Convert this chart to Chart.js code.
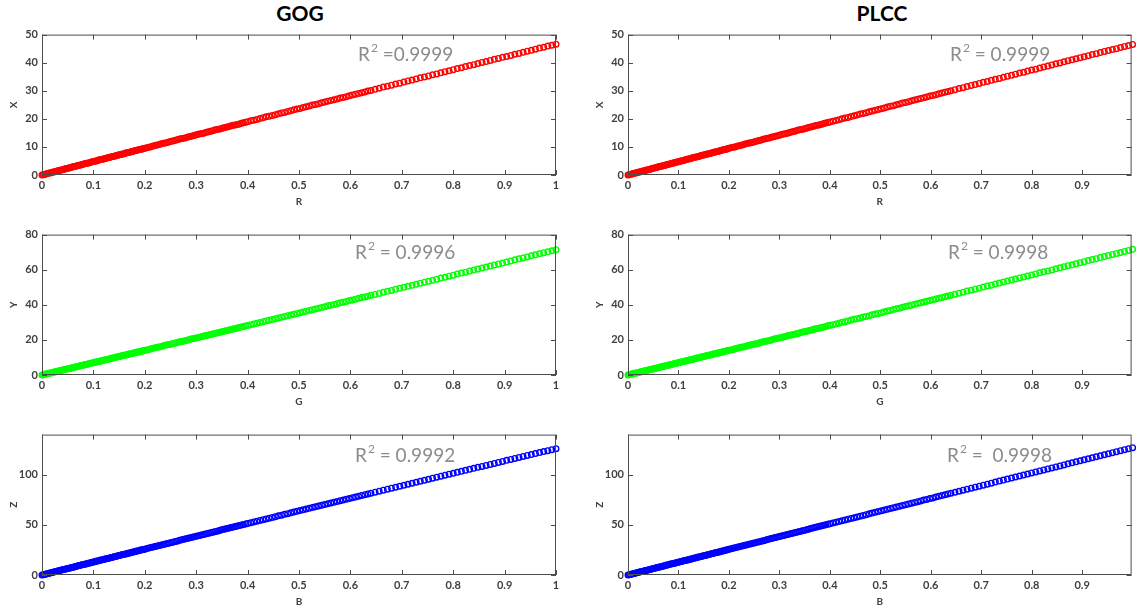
<!DOCTYPE html>
<html>
<head>
<meta charset="utf-8">
<title>GOG / PLCC</title>
<script src="https://cdn.jsdelivr.net/npm/chart.js@4.4.1/dist/chart.umd.min.js"></script>
<style>
  body { margin: 0; background: #fff; width: 1137px; height: 605px; overflow: hidden; position: relative; }
  .head { position: absolute; top: 0; line-height: 28px; font: bold 21px Lato, sans-serif; color: #000; transform: translateX(-50%); }
  canvas { position: absolute; }
</style>
</head>
<body>
<div class="head" style="left:300px">GOG</div>
<div class="head" style="left:882px">PLCC</div>
<script>
// normalised RGB drive levels, shared by every panel (finer steps at the dark end)
const levels = [
  0, 0.0025, 0.005, 0.0075, 0.01, 0.0125, 0.015, 0.0175, 0.02, 0.0225, 0.025, 0.0275, 0.03, 0.0325, 0.035, 0.0375, 0.04, 0.0425, 0.045, 0.0475,
  0.05, 0.0525, 0.055, 0.0575, 0.06, 0.0625, 0.065, 0.0675, 0.07, 0.0725, 0.075, 0.0775, 0.08, 0.0825, 0.085, 0.0875, 0.09, 0.0925, 0.095, 0.0975,
  0.1, 0.1025, 0.105, 0.1075, 0.11, 0.1125, 0.115, 0.1175, 0.12, 0.1225, 0.125, 0.1275, 0.13, 0.1325, 0.135, 0.1375, 0.14, 0.1425, 0.145, 0.1475,
  0.15, 0.1525, 0.155, 0.1575, 0.16, 0.1625, 0.165, 0.1675, 0.17, 0.1725, 0.175, 0.1775, 0.18, 0.1825, 0.185, 0.1875, 0.19, 0.1925, 0.195, 0.1975, 0.2,
  0.204, 0.208, 0.212, 0.216, 0.22, 0.224, 0.228, 0.232, 0.236, 0.24, 0.244, 0.248, 0.252, 0.256, 0.26, 0.264, 0.268, 0.272, 0.276, 0.28,
  0.284, 0.288, 0.292, 0.296, 0.3, 0.304, 0.308, 0.312, 0.316, 0.32, 0.324, 0.328, 0.332, 0.336, 0.34, 0.344, 0.348, 0.352, 0.356, 0.36,
  0.364, 0.368, 0.372, 0.376, 0.38, 0.384, 0.388, 0.392, 0.396, 0.4,
  0.406, 0.412, 0.418, 0.424, 0.43, 0.436, 0.442, 0.448, 0.454, 0.46, 0.466, 0.472, 0.478, 0.484, 0.49, 0.496, 0.502, 0.508, 0.514, 0.52,
  0.526, 0.532, 0.538, 0.544, 0.55, 0.556, 0.562, 0.568, 0.574, 0.58, 0.586, 0.592, 0.598, 0.604, 0.61, 0.616, 0.622, 0.628, 0.634, 0.64,
  0.648, 0.656, 0.664, 0.672, 0.68, 0.688, 0.696, 0.704, 0.712, 0.72, 0.728, 0.736, 0.744, 0.752, 0.76, 0.768, 0.776, 0.784, 0.792, 0.8,
  0.808, 0.816, 0.824, 0.832, 0.84, 0.848, 0.856, 0.864, 0.872, 0.88, 0.888, 0.896, 0.904, 0.912, 0.92, 0.928, 0.936, 0.944, 0.952, 0.96,
  0.968, 0.976, 0.984, 0.992, 1
];

// GOG model output
const gogX = [
  0, 0.1, 0.2, 0.4, 0.5, 0.6, 0.7, 0.8, 1.0, 1.1, 1.2, 1.3, 1.4, 1.6, 1.7, 1.8, 1.9, 2.0, 2.2, 2.3,
  2.4, 2.5, 2.6, 2.8, 2.9, 3.0, 3.1, 3.2, 3.4, 3.5, 3.6, 3.7, 3.8, 4.0, 4.1, 4.2, 4.3, 4.4, 4.5, 4.7,
  4.8, 4.9, 5.0, 5.1, 5.3, 5.4, 5.5, 5.6, 5.7, 5.9, 6.0, 6.1, 6.2, 6.3, 6.5, 6.6, 6.7, 6.8, 6.9, 7.0,
  7.2, 7.3, 7.4, 7.5, 7.6, 7.8, 7.9, 8.0, 8.1, 8.2, 8.4, 8.5, 8.6, 8.7, 8.8, 9.0, 9.1, 9.2, 9.3, 9.4, 9.5,
  9.7, 9.9, 10.1, 10.3, 10.5, 10.7, 10.9, 11.1, 11.3, 11.4, 11.6, 11.8, 12.0, 12.2, 12.4, 12.6, 12.8, 13.0, 13.1, 13.3,
  13.5, 13.7, 13.9, 14.1, 14.3, 14.5, 14.7, 14.8, 15.0, 15.2, 15.4, 15.6, 15.8, 16.0, 16.2, 16.3, 16.5, 16.7, 16.9, 17.1,
  17.3, 17.5, 17.7, 17.8, 18.0, 18.2, 18.4, 18.6, 18.8, 19.0,
  19.3, 19.5, 19.8, 20.1, 20.4, 20.7, 20.9, 21.2, 21.5, 21.8, 22.1, 22.3, 22.6, 22.9, 23.2, 23.5, 23.7, 24.0, 24.3, 24.6,
  24.9, 25.1, 25.4, 25.7, 26.0, 26.3, 26.5, 26.8, 27.1, 27.4, 27.6, 27.9, 28.2, 28.5, 28.8, 29.0, 29.3, 29.6, 29.9, 30.1,
  30.5, 30.9, 31.3, 31.6, 32.0, 32.4, 32.7, 33.1, 33.5, 33.8, 34.2, 34.6, 34.9, 35.3, 35.7, 36.0, 36.4, 36.8, 37.1, 37.5,
  37.9, 38.2, 38.6, 39.0, 39.3, 39.7, 40.1, 40.4, 40.8, 41.2, 41.5, 41.9, 42.2, 42.6, 43.0, 43.3, 43.7, 44.1, 44.4, 44.8,
  45.2, 45.5, 45.9, 46.2, 46.6
];
const gogY = [
  0, 0.2, 0.4, 0.5, 0.7, 0.9, 1.1, 1.2, 1.4, 1.6, 1.8, 1.9, 2.1, 2.3, 2.5, 2.6, 2.8, 3.0, 3.2, 3.3,
  3.5, 3.7, 3.9, 4.0, 4.2, 4.4, 4.6, 4.7, 4.9, 5.1, 5.3, 5.4, 5.6, 5.8, 6.0, 6.1, 6.3, 6.5, 6.7, 6.8,
  7.0, 7.2, 7.4, 7.5, 7.7, 7.9, 8.1, 8.2, 8.4, 8.6, 8.8, 8.9, 9.1, 9.3, 9.5, 9.7, 9.8, 10.0, 10.2, 10.4,
  10.5, 10.7, 10.9, 11.1, 11.2, 11.4, 11.6, 11.8, 11.9, 12.1, 12.3, 12.5, 12.6, 12.8, 13.0, 13.2, 13.3, 13.5, 13.7, 13.9, 14.1,
  14.3, 14.6, 14.9, 15.2, 15.5, 15.8, 16.0, 16.3, 16.6, 16.9, 17.2, 17.4, 17.7, 18.0, 18.3, 18.6, 18.9, 19.1, 19.4, 19.7,
  20.0, 20.3, 20.6, 20.8, 21.1, 21.4, 21.7, 22.0, 22.3, 22.5, 22.8, 23.1, 23.4, 23.7, 24.0, 24.2, 24.5, 24.8, 25.1, 25.4,
  25.7, 25.9, 26.2, 26.5, 26.8, 27.1, 27.4, 27.7, 27.9, 28.2,
  28.7, 29.1, 29.5, 29.9, 30.4, 30.8, 31.2, 31.6, 32.1, 32.5, 32.9, 33.4, 33.8, 34.2, 34.6, 35.1, 35.5, 35.9, 36.3, 36.8,
  37.2, 37.6, 38.1, 38.5, 38.9, 39.4, 39.8, 40.2, 40.6, 41.1, 41.5, 41.9, 42.4, 42.8, 43.2, 43.7, 44.1, 44.5, 44.9, 45.4,
  45.9, 46.5, 47.1, 47.7, 48.2, 48.8, 49.4, 50.0, 50.5, 51.1, 51.7, 52.3, 52.9, 53.4, 54.0, 54.6, 55.2, 55.7, 56.3, 56.9,
  57.5, 58.1, 58.6, 59.2, 59.8, 60.4, 60.9, 61.5, 62.1, 62.7, 63.3, 63.8, 64.4, 65.0, 65.6, 66.2, 66.7, 67.3, 67.9, 68.5,
  69.1, 69.7, 70.2, 70.8, 71.4
];
const gogZ = [
  0, 0.3, 0.6, 1.0, 1.3, 1.6, 1.9, 2.3, 2.6, 2.9, 3.2, 3.6, 3.9, 4.2, 4.5, 4.9, 5.2, 5.5, 5.8, 6.2,
  6.5, 6.8, 7.1, 7.5, 7.8, 8.1, 8.4, 8.8, 9.1, 9.4, 9.7, 10.1, 10.4, 10.7, 11.0, 11.3, 11.7, 12.0, 12.3, 12.6,
  13.0, 13.3, 13.6, 13.9, 14.3, 14.6, 14.9, 15.2, 15.5, 15.9, 16.2, 16.5, 16.8, 17.2, 17.5, 17.8, 18.1, 18.4, 18.8, 19.1,
  19.4, 19.7, 20.1, 20.4, 20.7, 21.0, 21.3, 21.7, 22.0, 22.3, 22.6, 22.9, 23.3, 23.6, 23.9, 24.2, 24.6, 24.9, 25.2, 25.5, 25.8,
  26.4, 26.9, 27.4, 27.9, 28.4, 28.9, 29.4, 29.9, 30.5, 31.0, 31.5, 32.0, 32.5, 33.0, 33.5, 34.0, 34.6, 35.1, 35.6, 36.1,
  36.6, 37.1, 37.6, 38.1, 38.6, 39.2, 39.7, 40.2, 40.7, 41.2, 41.7, 42.2, 42.7, 43.2, 43.7, 44.2, 44.8, 45.3, 45.8, 46.3,
  46.8, 47.3, 47.8, 48.3, 48.8, 49.3, 49.8, 50.3, 50.9, 51.4,
  52.1, 52.9, 53.6, 54.4, 55.2, 55.9, 56.7, 57.4, 58.2, 59.0, 59.7, 60.5, 61.2, 62.0, 62.7, 63.5, 64.3, 65.0, 65.8, 66.5,
  67.3, 68.0, 68.8, 69.5, 70.3, 71.0, 71.8, 72.5, 73.3, 74.1, 74.8, 75.6, 76.3, 77.1, 77.8, 78.6, 79.3, 80.1, 80.8, 81.6,
  82.6, 83.6, 84.6, 85.6, 86.6, 87.5, 88.5, 89.5, 90.5, 91.5, 92.5, 93.5, 94.5, 95.5, 96.5, 97.5, 98.5, 99.5, 100.5, 101.4,
  102.4, 103.4, 104.4, 105.4, 106.4, 107.4, 108.3, 109.3, 110.3, 111.3, 112.3, 113.3, 114.3, 115.2, 116.2, 117.2, 118.2, 119.2, 120.1, 121.1,
  122.1, 123.1, 124.0, 125.0, 126.0
];

// PLCC model output
const plccX = [
  0, 0.1, 0.2, 0.4, 0.5, 0.6, 0.7, 0.8, 1.0, 1.1, 1.2, 1.3, 1.4, 1.5, 1.7, 1.8, 1.9, 2.0, 2.1, 2.3,
  2.4, 2.5, 2.6, 2.7, 2.9, 3.0, 3.1, 3.2, 3.3, 3.4, 3.6, 3.7, 3.8, 3.9, 4.0, 4.2, 4.3, 4.4, 4.5, 4.6,
  4.7, 4.9, 5.0, 5.1, 5.2, 5.3, 5.5, 5.6, 5.7, 5.8, 5.9, 6.1, 6.2, 6.3, 6.4, 6.5, 6.6, 6.8, 6.9, 7.0,
  7.1, 7.2, 7.4, 7.5, 7.6, 7.7, 7.8, 7.9, 8.1, 8.2, 8.3, 8.4, 8.5, 8.7, 8.8, 8.9, 9.0, 9.1, 9.2, 9.4, 9.5,
  9.7, 9.9, 10.0, 10.2, 10.4, 10.6, 10.8, 11.0, 11.2, 11.4, 11.5, 11.7, 11.9, 12.1, 12.3, 12.5, 12.7, 12.9, 13.1, 13.2,
  13.4, 13.6, 13.8, 14.0, 14.2, 14.4, 14.6, 14.7, 14.9, 15.1, 15.3, 15.5, 15.7, 15.9, 16.1, 16.2, 16.4, 16.6, 16.8, 17.0,
  17.2, 17.4, 17.6, 17.7, 17.9, 18.1, 18.3, 18.5, 18.7, 18.9,
  19.1, 19.4, 19.7, 20.0, 20.3, 20.5, 20.8, 21.1, 21.4, 21.7, 21.9, 22.2, 22.5, 22.8, 23.1, 23.3, 23.6, 23.9, 24.2, 24.5,
  24.7, 25.0, 25.3, 25.6, 25.8, 26.1, 26.4, 26.7, 27.0, 27.2, 27.5, 27.8, 28.1, 28.3, 28.6, 28.9, 29.2, 29.5, 29.7, 30.0,
  30.4, 30.8, 31.1, 31.5, 31.9, 32.2, 32.6, 33.0, 33.3, 33.7, 34.1, 34.4, 34.8, 35.2, 35.5, 35.9, 36.3, 36.6, 37.0, 37.4,
  37.7, 38.1, 38.5, 38.8, 39.2, 39.6, 39.9, 40.3, 40.7, 41.0, 41.4, 41.8, 42.1, 42.5, 42.9, 43.2, 43.6, 44.0, 44.3, 44.7,
  45.0, 45.4, 45.8, 46.1, 46.5
];
const plccY = [
  0, 0.2, 0.4, 0.5, 0.7, 0.9, 1.1, 1.2, 1.4, 1.6, 1.8, 1.9, 2.1, 2.3, 2.5, 2.6, 2.8, 3.0, 3.2, 3.3,
  3.5, 3.7, 3.9, 4.0, 4.2, 4.4, 4.6, 4.7, 4.9, 5.1, 5.3, 5.4, 5.6, 5.8, 6.0, 6.1, 6.3, 6.5, 6.7, 6.8,
  7.0, 7.2, 7.4, 7.5, 7.7, 7.9, 8.1, 8.2, 8.4, 8.6, 8.8, 8.9, 9.1, 9.3, 9.5, 9.7, 9.8, 10.0, 10.2, 10.4,
  10.5, 10.7, 10.9, 11.1, 11.2, 11.4, 11.6, 11.8, 11.9, 12.1, 12.3, 12.5, 12.6, 12.8, 13.0, 13.2, 13.3, 13.5, 13.7, 13.9, 14.1,
  14.3, 14.6, 14.9, 15.2, 15.5, 15.8, 16.0, 16.3, 16.6, 16.9, 17.2, 17.5, 17.7, 18.0, 18.3, 18.6, 18.9, 19.2, 19.4, 19.7,
  20.0, 20.3, 20.6, 20.9, 21.1, 21.4, 21.7, 22.0, 22.3, 22.6, 22.8, 23.1, 23.4, 23.7, 24.0, 24.3, 24.6, 24.8, 25.1, 25.4,
  25.7, 26.0, 26.3, 26.5, 26.8, 27.1, 27.4, 27.7, 28.0, 28.3,
  28.7, 29.1, 29.5, 30.0, 30.4, 30.8, 31.3, 31.7, 32.1, 32.5, 33.0, 33.4, 33.8, 34.3, 34.7, 35.1, 35.5, 36.0, 36.4, 36.8,
  37.3, 37.7, 38.1, 38.6, 39.0, 39.4, 39.8, 40.3, 40.7, 41.1, 41.6, 42.0, 42.4, 42.9, 43.3, 43.7, 44.2, 44.6, 45.0, 45.5,
  46.0, 46.6, 47.2, 47.8, 48.3, 48.9, 49.5, 50.1, 50.7, 51.2, 51.8, 52.4, 53.0, 53.5, 54.1, 54.7, 55.3, 55.9, 56.4, 57.0,
  57.6, 58.2, 58.8, 59.3, 59.9, 60.5, 61.1, 61.7, 62.3, 62.8, 63.4, 64.0, 64.6, 65.2, 65.8, 66.3, 66.9, 67.5, 68.1, 68.7,
  69.3, 69.8, 70.4, 71.0, 71.6
];
const plccZ = [
  0, 0.3, 0.6, 1.0, 1.3, 1.6, 1.9, 2.2, 2.6, 2.9, 3.2, 3.5, 3.8, 4.2, 4.5, 4.8, 5.1, 5.4, 5.8, 6.1,
  6.4, 6.7, 7.0, 7.4, 7.7, 8.0, 8.3, 8.6, 9.0, 9.3, 9.6, 9.9, 10.2, 10.6, 10.9, 11.2, 11.5, 11.8, 12.2, 12.5,
  12.8, 13.1, 13.4, 13.7, 14.1, 14.4, 14.7, 15.0, 15.3, 15.7, 16.0, 16.3, 16.6, 16.9, 17.3, 17.6, 17.9, 18.2, 18.5, 18.9,
  19.2, 19.5, 19.8, 20.1, 20.5, 20.8, 21.1, 21.4, 21.7, 22.1, 22.4, 22.7, 23.0, 23.3, 23.6, 24.0, 24.3, 24.6, 24.9, 25.2, 25.6,
  26.1, 26.6, 27.1, 27.6, 28.1, 28.6, 29.1, 29.6, 30.2, 30.7, 31.2, 31.7, 32.2, 32.7, 33.2, 33.7, 34.2, 34.7, 35.3, 35.8,
  36.3, 36.8, 37.3, 37.8, 38.3, 38.8, 39.3, 39.8, 40.3, 40.9, 41.4, 41.9, 42.4, 42.9, 43.4, 43.9, 44.4, 44.9, 45.4, 46.0,
  46.5, 47.0, 47.5, 48.0, 48.5, 49.0, 49.5, 50.0, 50.5, 51.0,
  51.8, 52.6, 53.3, 54.1, 54.9, 55.6, 56.4, 57.1, 57.9, 58.7, 59.4, 60.2, 61.0, 61.7, 62.5, 63.2, 64.0, 64.8, 65.5, 66.3,
  67.1, 67.8, 68.6, 69.3, 70.1, 70.9, 71.6, 72.4, 73.1, 73.9, 74.7, 75.4, 76.2, 76.9, 77.7, 78.5, 79.2, 80.0, 80.8, 81.5,
  82.5, 83.5, 84.6, 85.6, 86.6, 87.6, 88.6, 89.6, 90.6, 91.6, 92.7, 93.7, 94.7, 95.7, 96.7, 97.7, 98.7, 99.7, 100.7, 101.8,
  102.8, 103.8, 104.8, 105.8, 106.8, 107.8, 108.8, 109.8, 110.9, 111.9, 112.9, 113.9, 114.9, 115.9, 116.9, 117.9, 118.9, 119.9, 120.9, 122.0,
  123.0, 124.0, 125.0, 126.0, 127.0
];

// fit quality for each panel
const r2Gog = ['0.9999', '0.9996', '0.9992'];
const r2Plcc = ['0.9999', '0.9998', '0.9998'];

// tick values
const xTicksFull = [0, 0.1, 0.2, 0.3, 0.4, 0.5, 0.6, 0.7, 0.8, 0.9, 1];
const xTicksCut = [0, 0.1, 0.2, 0.3, 0.4, 0.5, 0.6, 0.7, 0.8, 0.9];
const yTicksX = [0, 10, 20, 30, 40, 50];
const yTicksY = [0, 20, 40, 60, 80];
const yTicksZ = [0, 50, 100];

const tickFont = { family: 'Lato', weight: 'bold', size: 11 };
const inkColor = '#404040';

// layout of the 2 x 3 grid
const columns = [
  { left: 0, width: 564, padRight: 8, xMax: 1, xTicks: xTicksFull },
  { left: 586, width: 551, padRight: 0, xMax: 0.998, xTicks: xTicksCut }
];
const rowTops = [24, 224, 424];

const panels = [
  { col: 0, row: 0, ys: gogX, color: '#ff0000', xName: 'R', yName: 'X', yMax: 50, yTicks: yTicksX, r2: ' =' + r2Gog[0], nx: 316, ny: 20 },
  { col: 0, row: 1, ys: gogY, color: '#00ff00', xName: 'G', yName: 'Y', yMax: 80, yTicks: yTicksY, r2: ' = ' + r2Gog[1], nx: 313, ny: 18 },
  { col: 0, row: 2, ys: gogZ, color: '#0000ff', xName: 'B', yName: 'Z', yMax: 140, yTicks: yTicksZ, r2: ' = ' + r2Gog[2], nx: 313, ny: 21 },
  { col: 1, row: 0, ys: plccX, color: '#ff0000', xName: 'R', yName: 'X', yMax: 50, yTicks: yTicksX, r2: ' = ' + r2Plcc[0], nx: 322, ny: 20 },
  { col: 1, row: 1, ys: plccY, color: '#00ff00', xName: 'G', yName: 'Y', yMax: 80, yTicks: yTicksY, r2: ' = ' + r2Plcc[1], nx: 320, ny: 18 },
  { col: 1, row: 2, ys: plccZ, color: '#0000ff', xName: 'B', yName: 'Z', yMax: 140, yTicks: yTicksZ, r2: ' =  ' + r2Plcc[2], nx: 319, ny: 21 }
];

// box around the plot, inward ticks on all four sides, and the R² note
const framePlugin = {
  id: 'frame',
  afterDatasetsDraw(chart, args, opts) {
    const { ctx, chartArea: a, scales: { x, y } } = chart;
    ctx.save();
    ctx.strokeStyle = '#4d4d4d';
    ctx.lineWidth = 1;
    ctx.strokeRect(a.left + 0.5, a.top + 0.5, a.right - a.left - 1, a.bottom - a.top - 1);
    ctx.beginPath();
    x.ticks.forEach(t => {
      const px = Math.round(x.getPixelForValue(t.value)) + 0.5;
      ctx.moveTo(px, a.bottom); ctx.lineTo(px, a.bottom - 5);
      ctx.moveTo(px, a.top); ctx.lineTo(px, a.top + 5);
    });
    y.ticks.forEach(t => {
      const py = Math.round(y.getPixelForValue(t.value)) + 0.5;
      ctx.moveTo(a.left, py); ctx.lineTo(a.left + 5, py);
      ctx.moveTo(a.right, py); ctx.lineTo(a.right - 5, py);
    });
    ctx.stroke();

    ctx.fillStyle = '#8c8c8c';
    ctx.textBaseline = 'middle';
    let tx = a.left + opts.nx;
    const ty = a.top + opts.ny;
    ctx.font = '19px Lato';
    ctx.fillText('R', tx, ty);
    tx += ctx.measureText('R').width + 1;
    ctx.font = '12px Lato';
    ctx.fillText('2', tx, ty - 6);
    tx += ctx.measureText('2').width;
    ctx.font = '19px Lato';
    ctx.fillText(opts.text, tx, ty);
    ctx.restore();
  }
};

function drawPanel(p) {
  const c = columns[p.col];
  const canvas = document.createElement('canvas');
  canvas.width = c.width;
  canvas.height = 186;
  canvas.style.left = c.left + 'px';
  canvas.style.top = rowTops[p.row] + 'px';
  document.body.appendChild(canvas);

  new Chart(canvas, {
    type: 'scatter',
    data: {
      datasets: [{
        data: levels.map((v, i) => ({ x: v, y: p.ys[i] })),
        borderColor: p.color,
        backgroundColor: 'rgba(0,0,0,0)',
        pointRadius: 2.8,
        pointBorderWidth: 1.4,
        clip: false
      }]
    },
    options: {
      responsive: false,
      animation: false,
      devicePixelRatio: 1,
      events: [],
      layout: { padding: { top: 8, right: c.padRight, left: 0, bottom: 0 } },
      plugins: {
        legend: { display: false },
        tooltip: { enabled: false },
        frame: { nx: p.nx, ny: p.ny, text: p.r2 }
      },
      scales: {
        x: {
          type: 'linear', min: 0, max: c.xMax,
          grid: { display: false, drawTicks: false },
          border: { display: false },
          ticks: { color: inkColor, font: tickFont, padding: 4, maxRotation: 0, callback: v => String(v) },
          afterBuildTicks: s => { s.ticks = c.xTicks.map(v => ({ value: v })); },
          afterFit: s => { s.height = 35; },
          title: { display: true, text: p.xName, color: inkColor, font: { family: 'Lato', weight: 'bold', size: 10 }, padding: { top: 0, bottom: 2 } }
        },
        y: {
          type: 'linear', min: 0, max: p.yMax,
          grid: { display: false, drawTicks: false },
          border: { display: false },
          ticks: { color: inkColor, font: tickFont, padding: 4, callback: v => String(v) },
          afterBuildTicks: s => { s.ticks = p.yTicks.map(v => ({ value: v })); },
          afterFit: s => { s.width = 42; },
          title: { display: true, text: p.yName, color: inkColor, font: { family: 'Lato', weight: 'bold', size: 10 }, padding: { top: 8, bottom: 0 } }
        }
      }
    },
    plugins: [framePlugin]
  });
}

Promise.all([
  document.fonts.load('bold 11px Lato'),
  document.fonts.load('19px Lato')
]).catch(() => {}).then(() => panels.forEach(drawPanel));
</script>
</body>
</html>
